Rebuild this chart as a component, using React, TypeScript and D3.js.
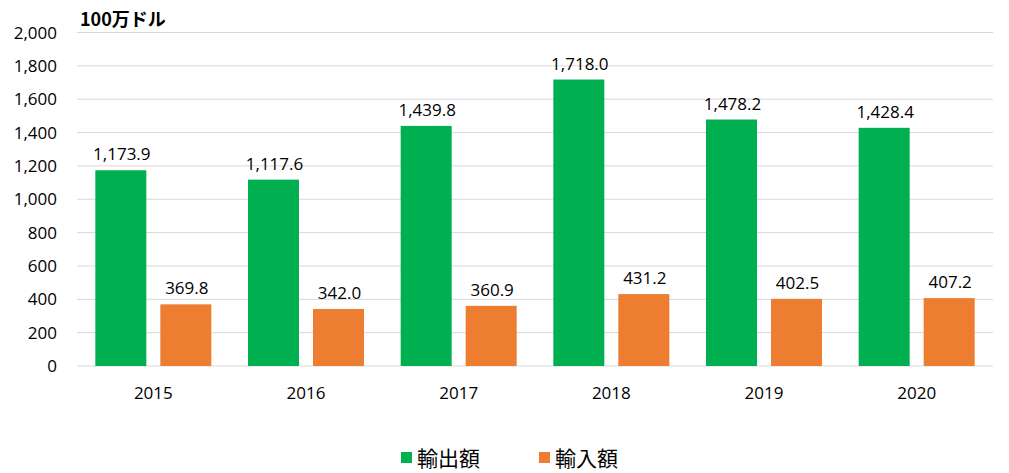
import React from "react";
import * as d3 from "d3";

const years = ["2015", "2016", "2017", "2018", "2019", "2020"];
const exportsVals = [1173.9, 1117.6, 1439.8, 1718.0, 1478.2, 1428.4];
const importsVals = [369.8, 342.0, 360.9, 431.2, 402.5, 407.2];
const yTicks = [0, 200, 400, 600, 800, 1000, 1200, 1400, 1600, 1800, 2000];
const seriesNames = ["輸出額", "輸入額"];
const colors = ["#00B050", "#ED7D31"];

const W = 1009;
const H = 473;
const left = 77;
const right = 993;
const top = 32.5;
const bottom = 366;

export default function App() {
  const x = d3.scaleBand<string>().domain(years).range([left, right]).paddingInner(0).paddingOuter(0);
  const y = d3.scaleLinear().domain([0, 2000]).range([bottom, top]);
  const bw = x.bandwidth();
  const barW = 51;
  const gap = 14;
  const offset = (bw - (2 * barW + gap)) / 2;
  const fmt = d3.format(",.1f");
  const tickFmt = d3.format(",");
  const font = "'Open Sans', 'Liberation Sans', sans-serif";
  const cjk = "'Noto Sans CJK JP', 'Noto Sans', sans-serif";
  const series = [exportsVals, importsVals];

  return (
    <div style={{ position: "absolute", left: 0, top: 0 }}>
      <svg width={W} height={H} style={{ display: "block", background: "#fff" }}>
        <rect width={W} height={H} fill="#fff" />
        {yTicks.map((t) => (
          <g key={t}>
            <line x1={left} x2={right} y1={y(t)} y2={y(t)} stroke="#d9d9d9" strokeWidth={1} />
            <text x={57} y={y(t)} dy="0.36em" textAnchor="end" fontFamily={font} fontSize={17} fill="#000">
              {tickFmt(t)}
            </text>
          </g>
        ))}
        <text x={80} y={26} fontFamily={cjk} fontWeight="bold" fontSize={18} fill="#000">
          100万ドル
        </text>
        {years.map((yr, i) => (
          <g key={yr}>
            {series.map((vals, s) => {
              const bx = (x(yr) as number) + offset + s * (barW + gap);
              return (
                <g key={s}>
                  <rect x={bx} y={y(vals[i])} width={barW} height={bottom - y(vals[i])} fill={colors[s]} />
                  <text x={bx + barW / 2 + 1} y={y(vals[i]) - 10} textAnchor="middle" fontFamily={font} fontSize={17} fill="#000">
                    {fmt(vals[i])}
                  </text>
                </g>
              );
            })}
            <text x={(x(yr) as number) + bw / 2} y={399} textAnchor="middle" fontFamily={font} fontSize={17} fill="#000">
              {yr}
            </text>
          </g>
        ))}
        {seriesNames.map((n, s) => {
          const lx = s === 0 ? 401 : 539;
          return (
            <g key={n}>
              <rect x={lx} y={452} width={11} height={11} fill={colors[s]} />
              <text x={lx + 16} y={465.5} fontFamily={cjk} fontSize={21} fill="#000">
                {n}
              </text>
            </g>
          );
        })}
      </svg>
    </div>
  );
}
